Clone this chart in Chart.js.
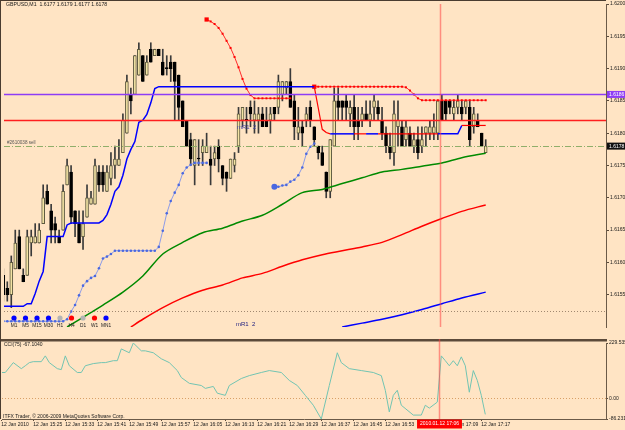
<!DOCTYPE html>
<html><head><meta charset="utf-8">
<script src="https://cdn.jsdelivr.net/npm/chart.js@4.4.0/dist/chart.umd.min.js"></script>
<style>
html,body{margin:0;padding:0;background:#ffe4c4;width:625px;height:430px;overflow:hidden}
#wrap{position:relative;width:625px;height:430px;background:#ffe4c4}
#c1{position:absolute;left:0;top:0}
#c2{position:absolute;left:0;top:339px}
</style></head>
<body><div id="wrap"><canvas id="c1" width="625" height="340"></canvas><canvas id="c2" width="625" height="91"></canvas></div>
<script>
// ---------- DATA ----------
const symbolTitle = 'GBPUSD,M1  1.6177 1.6179 1.6177 1.6178';
const cciTitle = 'CCI(75) -67.1040';
const tickBars = [0,8,16,24,32,40,48,56,64,72,80,88,96,104,112,120];
const tickLabels = ['12 Jan 2010','12 Jan 15:25','12 Jan 15:33','12 Jan 15:41','12 Jan 15:49','12 Jan 15:57','12 Jan 16:05','12 Jan 16:13','12 Jan 16:21','12 Jan 16:29','12 Jan 16:37','12 Jan 16:45','12 Jan 16:53','12 Jan 17:01','12 Jan 17:09','12 Jan 17:17'];
const priceTicks = [1.6155,1.6160,1.6165,1.6170,1.6175,1.6180,1.6185,1.6190,1.6195,1.6200];

const open = [1.6158,1.6156,1.6155,1.6159,1.6164,1.6158,1.6158,1.6163,1.6163,1.6163,
1.6166,1.6171,1.6168,1.6166,1.6164,1.6165,1.6172,1.6174,1.6168,1.6166,
1.6164,1.6167,1.6169,1.6169,1.6174,1.6174,1.6171,1.6173,1.6175,1.6175,
1.6177,1.6180,1.6186,1.6186,1.6189,1.6192,1.6189,1.6193,1.6192,1.6193,
1.6191,1.6190,1.6191,1.6191,1.6189,1.6185,1.6182,1.6179,1.6175,1.6176,
1.6177,1.6177,1.6176,1.6176,1.6178,1.6175,1.6174,1.6173,1.6175,1.6178,
1.6182,1.6182,1.6184,1.6182,1.6182,1.6183,1.6182,1.6182,1.6184,1.6184,
1.6186,1.6187,1.6188,1.6185,1.6180,1.6181,1.6182,1.6184,1.6181,1.6178,
1.6177,1.6174,1.6171,1.6178,1.6185,1.6185,1.6185,1.6183,1.6184,1.6182,
1.6182,1.6183,1.6182,1.6184,1.6184,1.6182,1.6180,1.6178,1.6177,1.6181,
1.6181,1.6179,1.6180,1.6178,1.6179,1.6178,1.6180,1.6180,1.6180,1.6180,
1.6185,1.6185,1.6185,1.6183,1.6184,1.6184,1.6184,1.6184,1.6181,1.6182,
1.6180,1.6177];
const high = [1.6159,1.6157,1.6161,1.6165,1.6165,1.6159,1.6165,1.6165,1.6166,1.6166,
1.6172,1.6172,1.6169,1.6167,1.6165,1.6172,1.6176,1.6175,1.6168,1.6168,
1.6168,1.6172,1.6171,1.6176,1.6175,1.6175,1.6175,1.6177,1.6178,1.6179,
1.6183,1.6189,1.6187,1.6192,1.6194,1.6192,1.6192,1.6194,1.6193,1.6193,
1.6193,1.6192,1.6192,1.6191,1.6189,1.6185,1.6182,1.6180,1.6179,1.6179,
1.6179,1.6180,1.6178,1.6178,1.6179,1.6175,1.6174,1.6176,1.6177,1.6184,
1.6184,1.6184,1.6185,1.6185,1.6184,1.6184,1.6184,1.6184,1.6184,1.6189,
1.6188,1.6188,1.6190,1.6186,1.6184,1.6182,1.6184,1.6185,1.6181,1.6178,
1.6178,1.6174,1.6179,1.6187,1.6187,1.6185,1.6186,1.6185,1.6186,1.6184,
1.6184,1.6185,1.6185,1.6186,1.6185,1.6184,1.6181,1.6180,1.6185,1.6185,
1.6182,1.6182,1.6181,1.6180,1.6181,1.6181,1.6181,1.6182,1.6183,1.6185,
1.6186,1.6185,1.6185,1.6185,1.6186,1.6185,1.6185,1.6185,1.6184,1.6183,
1.6180,1.6179];
const low = [1.6154,1.6154,1.6153,1.6159,1.6159,1.6157,1.6158,1.6161,1.6163,1.6163,
1.6166,1.6169,1.6163,1.6163,1.6163,1.6165,1.6172,1.6166,1.6164,1.6163,
1.6162,1.6167,1.6169,1.6169,1.6171,1.6171,1.6171,1.6172,1.6173,1.6175,
1.6177,1.6180,1.6183,1.6186,1.6189,1.6188,1.6189,1.6191,1.6192,1.6192,
1.6189,1.6189,1.6188,1.6182,1.6182,1.6181,1.6178,1.6175,1.6172,1.6175,
1.6175,1.6177,1.6172,1.6175,1.6174,1.6172,1.6171,1.6173,1.6174,1.6177,
1.6181,1.6180,1.6181,1.6180,1.6180,1.6181,1.6181,1.6180,1.6182,1.6183,
1.6185,1.6186,1.6184,1.6179,1.6179,1.6178,1.6181,1.6181,1.6178,1.6176,
1.6175,1.6170,1.6170,1.6178,1.6182,1.6182,1.6182,1.6181,1.6179,1.6179,
1.6181,1.6182,1.6181,1.6182,1.6182,1.6179,1.6177,1.6176,1.6175,1.6178,
1.6178,1.6178,1.6178,1.6177,1.6176,1.6177,1.6178,1.6179,1.6179,1.6179,
1.6182,1.6182,1.6183,1.6182,1.6183,1.6182,1.6183,1.6178,1.6180,1.6181,
1.6178,1.6177];
const close = [1.6155,1.6155,1.6160,1.6163,1.6159,1.6157,1.6164,1.6164,1.6164,1.6165,
1.6170,1.6169,1.6165,1.6165,1.6163,1.6171,1.6175,1.6167,1.6166,1.6163,
1.6166,1.6170,1.6170,1.6175,1.6172,1.6172,1.6174,1.6175,1.6176,1.6176,
1.6182,1.6188,1.6185,1.6192,1.6193,1.6188,1.6191,1.6191,1.6193,1.6192,
1.6189,1.6190,1.6190,1.6188,1.6184,1.6181,1.6178,1.6176,1.6179,1.6176,
1.6178,1.6178,1.6175,1.6177,1.6176,1.6173,1.6173,1.6176,1.6176,1.6183,
1.6184,1.6182,1.6183,1.6183,1.6183,1.6181,1.6181,1.6183,1.6183,1.6188,
1.6188,1.6188,1.6184,1.6181,1.6181,1.6180,1.6183,1.6182,1.6179,1.6177,
1.6175,1.6171,1.6179,1.6185,1.6184,1.6184,1.6184,1.6184,1.6181,1.6181,
1.6183,1.6182,1.6183,1.6185,1.6183,1.6180,1.6178,1.6177,1.6183,1.6182,
1.6178,1.6181,1.6178,1.6179,1.6177,1.6179,1.6181,1.6181,1.6181,1.6185,
1.6182,1.6183,1.6184,1.6184,1.6185,1.6183,1.6185,1.6179,1.6183,1.6181,
1.6178,1.6178];

// trailing stop line (one value per bar)
const trail = [1.61532,1.61532,1.61532,1.61532,1.61532,1.61532,1.61536,1.61536,1.61552,1.61571,
1.61586,1.61640,1.61640,1.61640,1.61640,1.61640,1.61658,1.61661,1.61661,1.61661,
1.61661,1.61661,1.61661,1.61661,1.61661,1.61665,1.61674,1.61690,1.61710,1.61717,
1.61735,1.61760,1.61775,1.61787,1.61817,1.61820,1.61829,1.61847,1.61869,1.61872,
1.61872,1.61872,1.61872,1.61872,1.61872,1.61872,1.61872,1.61872,1.61872,1.61872,
1.61872,1.61872,1.61872,1.61872,1.61872,1.61872,1.61872,1.61872,1.61872,1.61872,
1.61872,1.61872,1.61872,1.61872,1.61872,1.61872,1.61872,1.61872,1.61872,1.61872,
1.61872,1.61872,1.61872,1.61872,1.61872,1.61872,1.61872,1.61872,1.61872,1.61839,
1.61806,1.61801,1.61799,1.61799,1.61799,1.61799,1.61799,1.61799,1.61799,1.61799,
1.61799,1.61799,1.61799,1.61799,1.61799,1.61799,1.61799,1.61799,1.61799,1.61799,
1.61799,1.61799,1.61799,1.61799,1.61799,1.61799,1.61799,1.61799,1.61799,1.61799,
1.61799,1.61799,1.61799,1.61799,1.61799,1.61812,1.61812,1.61812,1.61812,1.61812,
1.61812,1.61812];
const trailSwitchBars = [0,78,82,88,91,94,109,115];
const trailSwitchUp   = [true,false,true,false,true,false,true,false];

// red dotted stop (two runs)
const redStop1Start = 51;
const redStop1 = [1.61976,1.61973,1.61969,1.61963,1.61954,1.61943,1.61932,1.61918,1.61902,1.61884,1.61869,1.61859,
1.61854,1.61854,1.61854,1.61854,1.61854,1.61854,1.61854,1.61854,1.61854,1.61854];
const redStop2Start = 78;
const redStop2 = [1.61872,1.61872,1.61872,1.61872,1.61872,1.61872,1.61872,1.61872,1.61872,1.61872,
1.61872,1.61872,1.61872,1.61872,1.61872,1.61872,1.61872,1.61872,1.61872,1.61872,1.61872,1.61872,1.61872,
1.61871,1.61866,1.61860,1.61854,
1.61851,1.61851,1.61851,1.61851,1.61851,1.61851,1.61851,1.61851,1.61851,1.61851,1.61851,1.61851,1.61851,1.61851,1.61851,1.61851,1.61851];
// blue dotted stop (two runs)
const blueStop1Start = 0;
const blueStop1 = [1.61509,1.61509,1.61509,1.61509,1.61509,1.61509,1.61509,1.61509,1.61509,1.61509,1.61509,1.61509,1.61509,1.61509,1.61509,1.61509,
1.61512,1.61524,1.61534,1.61549,1.61564,1.61571,1.61576,1.61579,1.61591,1.61606,1.61609,1.61613,
1.61618,1.61618,1.61618,1.61618,1.61618,1.61618,1.61618,1.61618,1.61618,1.61618,1.61618,
1.61624,1.61649,1.61676,1.61695,1.61708,1.61720,1.61738,1.61747,1.61751,
1.61754,1.61754,1.61754,1.61754];
const blueStop2Start = 68;
const blueStop2 = [1.61717,1.61717,1.61719,1.61720,1.61725,1.61728,1.61735,1.61747,1.61768,1.61779,1.61784];

// moving averages (key points)
const maGreenBars = [16,20,25,30,35,40,45,50,55,60,65,70,75,80,85,90,95,100,105,110,115,121];
const maGreen = [1.61500,1.61515,1.61534,1.61554,1.61579,1.61613,1.61631,1.61646,1.61653,1.61664,1.61673,1.61690,1.61708,1.61713,1.61722,1.61731,1.61740,1.61744,1.61749,1.61754,1.61762,1.61769];
const maRedBars = [32,35,40,45,50,55,60,65,70,75,80,85,90,95,100,105,110,115,121];
const maRed = [1.61500,1.61512,1.61530,1.61545,1.61557,1.61565,1.61576,1.61583,1.61594,1.61604,1.61612,1.61618,1.61624,1.61631,1.61643,1.61656,1.61668,1.61679,1.61689];
const maBlueBars = [85,90,95,100,105,110,115,121];
const maBlue = [1.61500,1.61506,1.61512,1.61519,1.61527,1.61536,1.61545,1.61554];

// horizontal levels
const levelPurple = 1.6186, levelRed = 1.6182, levelSell = 1.6178, levelDotted = 1.61525;
const cursorBar = 109.5, cursorLabel = '2010.01.12 17:06';

// timeframe legend
const tfNames = ['M1','M5','M15','M30','H1','H4','D1','W1','MN1'];
const tfState = ['up','up','up','up','flat','down','flat','down','up'];

// CCI
const cciBars = [0,1,3,5,6,7,8,10,11,12,14,15,16,17,19,20,21,23,25,26,28,29,30,32,33,35,36,38,40,42,44,45,47,50,51,53,54,56,57,60,62,65,67,70,72,74,76,78,80,82,84,85,87,90,93,95,96,97,98,99,100,103,105,106,107,109,110,111,112,113,114,115,116,117,118,119,120,121];
const cciVals = [107,107,148,123,135,148,152,152,176,148,123,119,176,135,107,107,135,144,148,148,156,156,205,189,229.535,197,197,189,164,148,115,86,62,53,41,49,21,12,53,82,94,107,115,107,74,53,12,-29,-86.2317,53,189,148,123,115,107,94,33,-57,12,33,-29,-70,-70,-29,-41,-16,176,156,135,156,135,172,135,25,115,74,12,-67.104];
const cciMin = -86.2317, cciMax = 229.535;
const cciTicks = [-86.2317, 0, 229.535];
const cciTickText = ['-86.2317','0.00','229.535'];

// ---------- BUILD ----------
const FONT = '"Liberation Sans", Arial, sans-serif';
const idx = open.map((_, i) => i);
const wickData = idx.map(i => ({x: i, y: [low[i], high[i]]}));
const bodyData = idx.map(i => ({x: i, y: [Math.min(open[i], close[i]), Math.max(open[i], close[i])]}));
const bodyFill = idx.map(i => close[i] > open[i] ? '#f3e3a4' : '#000000');
const bodyLine = idx.map(i => close[i] > open[i] ? '#5e5a40' : '#000000');
const run = (start, arr) => arr.map((v, k) => ({x: start + k, y: v}));
const pairs = (bars, vals) => bars.map((b, k) => ({x: b, y: vals[k]}));
function trailUp(i){ let up = true; trailSwitchBars.forEach((b,k)=>{ if (i >= b) up = trailSwitchUp[k]; }); return up; }

const xMin = 0.175, xMax = 151.175;
function xAxis(show){
  return {
    type:'linear', min:xMin, max:xMax, display:show, offset:false, bounds:'ticks',
    grid:{display:true, drawOnChartArea:false, drawTicks:true, tickLength:2, color:'#5a4a3a', offset:false},
    border:{display:true, color:'#6b5a48', width:1},
    afterBuildTicks: s => { s.ticks = tickBars.map(v => ({value:v})); },
    afterFit: s => { s.height = 11; },
    ticks:{autoSkip:false, maxRotation:0, minRotation:0, align:'start', padding:1, color:'#1a1a1a',
      font:{family:FONT, size:5}, callback: v => tickLabels[tickBars.indexOf(v)] }
  };
}
function font(sz){ return sz + 'px ' + FONT; }

const mainPlugin = {
  id:'mainDeco',
  afterDatasetsDraw(chart){
    const {ctx, chartArea:a, scales:{x, y}} = chart;
    ctx.save();
    ctx.beginPath(); ctx.rect(a.left, a.top, a.right - a.left, a.bottom - a.top); ctx.clip();
    const hline = (p, color, w, dash) => {
      const py = Math.round(y.getPixelForValue(p)) + 0.5;
      ctx.strokeStyle = color; ctx.lineWidth = w; ctx.setLineDash(dash || []);
      ctx.beginPath(); ctx.moveTo(a.left, py); ctx.lineTo(a.right, py); ctx.stroke();
    };
    hline(levelDotted, '#a08870', 1, [1, 2]);
    hline(levelSell, '#8fae6a', 1, [6, 2, 1, 2]);
    hline(levelRed, '#ff1e1e', 1.5);
    hline(levelPurple, '#8e3cf5', 1.5);
    ctx.setLineDash([]);
    const vx = Math.round(x.getPixelForValue(cursorBar)) + 0.5;
    ctx.strokeStyle = 'rgba(255,70,70,0.55)'; ctx.lineWidth = 1.5;
    ctx.beginPath(); ctx.moveTo(vx, a.top - 2); ctx.lineTo(vx, a.bottom + 2); ctx.stroke();
    ctx.restore();
  },
  afterDraw(chart){
    const {ctx, chartArea:a, scales:{y}} = chart;
    ctx.save();
    ctx.strokeStyle = '#4a3c30'; ctx.lineWidth = 1;
    ctx.beginPath(); ctx.moveTo(0.5, 0); ctx.lineTo(0.5, 340); ctx.moveTo(0, 0.5); ctx.lineTo(a.right, 0.5); ctx.stroke();
    ctx.textBaseline = 'middle'; ctx.textAlign = 'left';
    ctx.fillStyle = '#1a1a1a'; ctx.font = font(5.2);
    ctx.fillText(symbolTitle, a.left + 2, 5);
    ctx.fillStyle = '#555'; ctx.font = font(4.6);
    ctx.fillText('#2610038 sell', a.left + 3, y.getPixelForValue(levelSell) - 3.5);
    ctx.fillStyle = '#4545a8'; ctx.font = font(6);
    ctx.fillText('mR1  2', a.left + 233, 127);
    ctx.fillStyle = '#202080';
    ctx.fillText('mR1  2', a.left + 232, 324);
    const box = (p, bg, txt) => {
      const py = y.getPixelForValue(p);
      ctx.fillStyle = bg; ctx.fillRect(a.right + 1, py - 3.5, 625 - a.right, 7);
      ctx.fillStyle = '#ffffff'; ctx.font = font(5);
      ctx.fillText(txt, a.right + 3, py + 0.3);
    };
    box(levelPurple, '#8e3cf5', levelPurple.toFixed(4));
    box(levelSell, '#101010', levelSell.toFixed(4));
    const colors = {up:'#0000ff', down:'#ff0000', flat:'#b4b4b4'};
    tfNames.forEach((n, k) => {
      const cx = a.left + 10 + k * 11.5;
      ctx.fillStyle = colors[tfState[k]];
      ctx.beginPath(); ctx.arc(cx, 318, 2.6, 0, Math.PI * 2); ctx.fill();
      ctx.fillStyle = '#222'; ctx.font = font(4.8); ctx.textAlign = 'center';
      ctx.fillText(n, cx, 325.5);
    });
    ctx.restore();
  }
};

const cciPlugin = {
  id:'cciDeco',
  beforeDatasetsDraw(chart){
    const {ctx, chartArea:a, scales:{y}} = chart;
    ctx.save();
    const py = Math.round(y.getPixelForValue(0)) + 0.5;
    ctx.strokeStyle = '#d9a066'; ctx.lineWidth = 1; ctx.setLineDash([1, 2]);
    ctx.beginPath(); ctx.moveTo(a.left, py); ctx.lineTo(a.right, py); ctx.stroke();
    ctx.restore();
  },
  afterDraw(chart){
    const {ctx, chartArea:a, scales:{x}} = chart;
    ctx.save();
    ctx.fillStyle = '#5c4a3a'; ctx.fillRect(0, 0, a.right + 1, 2.5);
    ctx.strokeStyle = '#4a3c30'; ctx.lineWidth = 1;
    ctx.beginPath(); ctx.moveTo(0.5, 0); ctx.lineTo(0.5, a.bottom); ctx.stroke();
    const vx = Math.round(x.getPixelForValue(cursorBar)) + 0.5;
    ctx.strokeStyle = 'rgba(255,70,70,0.55)'; ctx.lineWidth = 1.5;
    ctx.beginPath(); ctx.moveTo(vx, 0); ctx.lineTo(vx, a.bottom); ctx.stroke();
    ctx.textBaseline = 'middle'; ctx.textAlign = 'left';
    ctx.fillStyle = '#1a1a1a'; ctx.font = font(5);
    ctx.fillText(cciTitle, a.left + 2, 5.5);
    ctx.fillText('ITFX Trader, \u00a9 2006-2009 MetaQuotes Software Corp.', a.left + 1, 78);
    ctx.font = font(5);
    const w = ctx.measureText(cursorLabel).width + 6;
    ctx.fillStyle = '#ff0000'; ctx.fillRect(vx - w / 2, a.bottom + 0.5, w, 9);
    ctx.fillStyle = '#ffffff'; ctx.textAlign = 'center';
    ctx.fillText(cursorLabel, vx, a.bottom + 5);
    ctx.restore();
  }
};

Chart.defaults.animation = false;
Chart.defaults.events = [];
Chart.defaults.plugins.legend.display = false;
Chart.defaults.plugins.tooltip.enabled = false;

new Chart(document.getElementById('c1'), {
  type:'bar',
  data:{ datasets:[
    {type:'line', label:'trail', data: trail.map((v,i)=>({x:i, y:v})), borderWidth:1.5, pointRadius:0, borderColor:'#0000ff',
      segment:{ borderColor: c => trailUp(c.p0DataIndex) ? '#0000ff' : '#ff0000', borderWidth: c => trailUp(c.p0DataIndex) ? 1.5 : 1.2 }, order:1},
    {type:'line', label:'redStop1', data: run(redStop1Start, redStop1), borderColor:'#ff2a2a', borderWidth:1, pointStyle:'rect',
      pointRadius: redStop1.map((v,k)=> k===0 ? 3 : 1.4), pointBackgroundColor:'#ff0000', pointBorderWidth:0, order:1},
    {type:'line', label:'redStop2', data: run(redStop2Start, redStop2), borderColor:'#ff2a2a', borderWidth:1, pointStyle:'rect',
      pointRadius: redStop2.map((v,k)=> k===0 ? 3 : 1.4), pointBackgroundColor:'#ff0000', pointBorderWidth:0, order:1},
    {type:'line', label:'blueStop1', data: run(blueStop1Start, blueStop1), borderColor:'#8c9be8', borderWidth:1,
      pointRadius:1.3, pointBackgroundColor:'#4a68e0', pointBorderWidth:0, order:1},
    {type:'line', label:'blueStop2', data: run(blueStop2Start, blueStop2), borderColor:'#8c9be8', borderWidth:1,
      pointRadius: blueStop2.map((v,k)=> k===0 ? 3 : 1.3), pointBackgroundColor:'#4a68e0', pointBorderWidth:0, order:1},
    {type:'line', label:'maGreen', data: pairs(maGreenBars, maGreen), borderColor:'#008a00', borderWidth:1.5, pointRadius:0, tension:0.3, order:1},
    {type:'line', label:'maRed', data: pairs(maRedBars, maRed), borderColor:'#ff0000', borderWidth:1.5, pointRadius:0, tension:0.3, order:1},
    {type:'line', label:'maBlue', data: pairs(maBlueBars, maBlue), borderColor:'#0000ff', borderWidth:1.5, pointRadius:0, tension:0.3, order:1},
    {label:'body', data: bodyData, backgroundColor: bodyFill, borderColor: bodyLine, borderWidth:1, borderSkipped:false,
      barThickness:3, minBarLength:1, grouped:false, order:2},
    {label:'wick', data: wickData, backgroundColor:'#3a3a3a', borderWidth:0, barThickness:1, grouped:false, order:3}
  ]},
  options:{
    responsive:false, maintainAspectRatio:false,
    layout:{padding:{left:2, top:2, right:0, bottom:2}},
    scales:{
      x: xAxis(false),
      y: { type:'linear', position:'right', min:1.6150, max:1.6200,
        afterBuildTicks: s => { s.ticks = priceTicks.map(v => ({value:v})); },
        afterFit: s => { s.width = 19; },
        grid:{display:true, drawOnChartArea:false, tickLength:3, color:'#5a4a3a'},
        border:{display:true, color:'#6b5a48', width:1},
        ticks:{padding:1, color:'#1a1a1a', font:{family:FONT, size:5}, callback: v => v.toFixed(4)} }
    }
  },
  plugins:[mainPlugin]
});

new Chart(document.getElementById('c2'), {
  type:'line',
  data:{ datasets:[
    {label:'CCI', data: pairs(cciBars, cciVals), borderColor:'#72c4b2', borderWidth:1, pointRadius:0, tension:0}
  ]},
  options:{
    responsive:false, maintainAspectRatio:false,
    layout:{padding:{left:2, top:3, right:0, bottom:0}},
    scales:{
      x: xAxis(true),
      y: { type:'linear', position:'right', min:cciMin, max:cciMax,
        afterBuildTicks: s => { s.ticks = cciTicks.map(v => ({value:v})); },
        afterFit: s => { s.width = 19; },
        grid:{display:true, drawOnChartArea:false, tickLength:2, color:'#5a4a3a'},
        border:{display:true, color:'#6b5a48', width:1},
        ticks:{padding:1, color:'#1a1a1a', font:{family:FONT, size:5}, callback: v => cciTickText[cciTicks.indexOf(v)]} }
    }
  },
  plugins:[cciPlugin]
});
</script></body></html>
